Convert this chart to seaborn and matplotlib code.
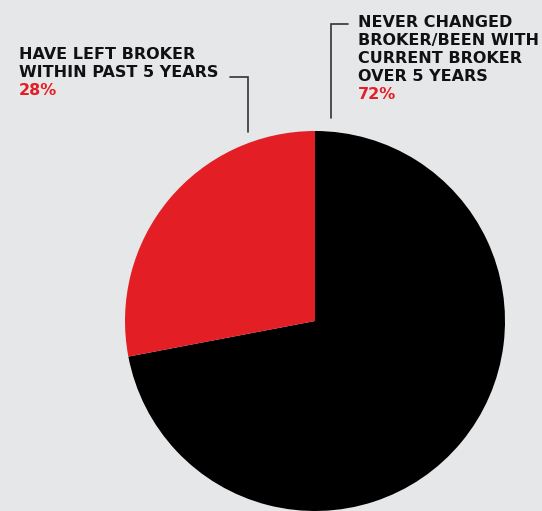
import matplotlib
matplotlib.use("Agg")
import matplotlib.pyplot as plt
import seaborn as sns

# Survey split
categories = ["Never changed broker / been with current broker over 5 years",
              "Have left broker within past 5 years"]
shares = [72, 28]
slice_colors = ["#000000", "#e31e24"]

left_label = ["HAVE LEFT BROKER", "WITHIN PAST 5 YEARS"]
right_label = ["NEVER CHANGED", "BROKER/BEEN WITH", "CURRENT BROKER", "OVER 5 YEARS"]

BG = "#e6e7e8"
W, H = 542, 511

sns.set_theme(style="white")
plt.rcParams["font.family"] = ["DejaVu Sans"]

fig = plt.figure(figsize=(W / 100, H / 100), dpi=100, facecolor=BG)
ax = fig.add_axes([0, 0, 1, 1])
ax.set_facecolor(BG)

# Pie: black share runs clockwise from 12 o'clock
ax.pie(shares, colors=slice_colors, startangle=90, counterclock=False,
       center=(315, H - 321), radius=190, wedgeprops=dict(linewidth=0),
       frame=True)
ax.set_xlim(0, W)
ax.set_ylim(0, H)
ax.set_aspect("equal")
ax.axis("off")

fs = 11.5
lh = 18

# Left annotation
for i, line in enumerate(left_label):
    ax.text(19, H - (59 + i * lh), line, fontsize=fs, fontweight="bold",
            color="#111111", ha="left", va="baseline")
ax.text(19, H - (59 + len(left_label) * lh), f"{shares[1]}%", fontsize=fs,
        fontweight="bold", color=slice_colors[1], ha="left", va="baseline")
ax.plot([230, 248, 248], [H - 77, H - 77, H - 132], color="#333333", lw=1.2,
        solid_joinstyle="miter")

# Right annotation
for i, line in enumerate(right_label):
    ax.text(358, H - (27 + i * lh), line, fontsize=fs, fontweight="bold",
            color="#111111", ha="left", va="baseline")
ax.text(358, H - (27 + len(right_label) * lh), f"{shares[0]}%", fontsize=fs,
        fontweight="bold", color=slice_colors[1], ha="left", va="baseline")
ax.plot([348, 331, 331], [H - 24, H - 24, H - 118], color="#333333", lw=1.2,
        solid_joinstyle="miter")

fig.savefig("out.png", dpi=100, facecolor=BG)
